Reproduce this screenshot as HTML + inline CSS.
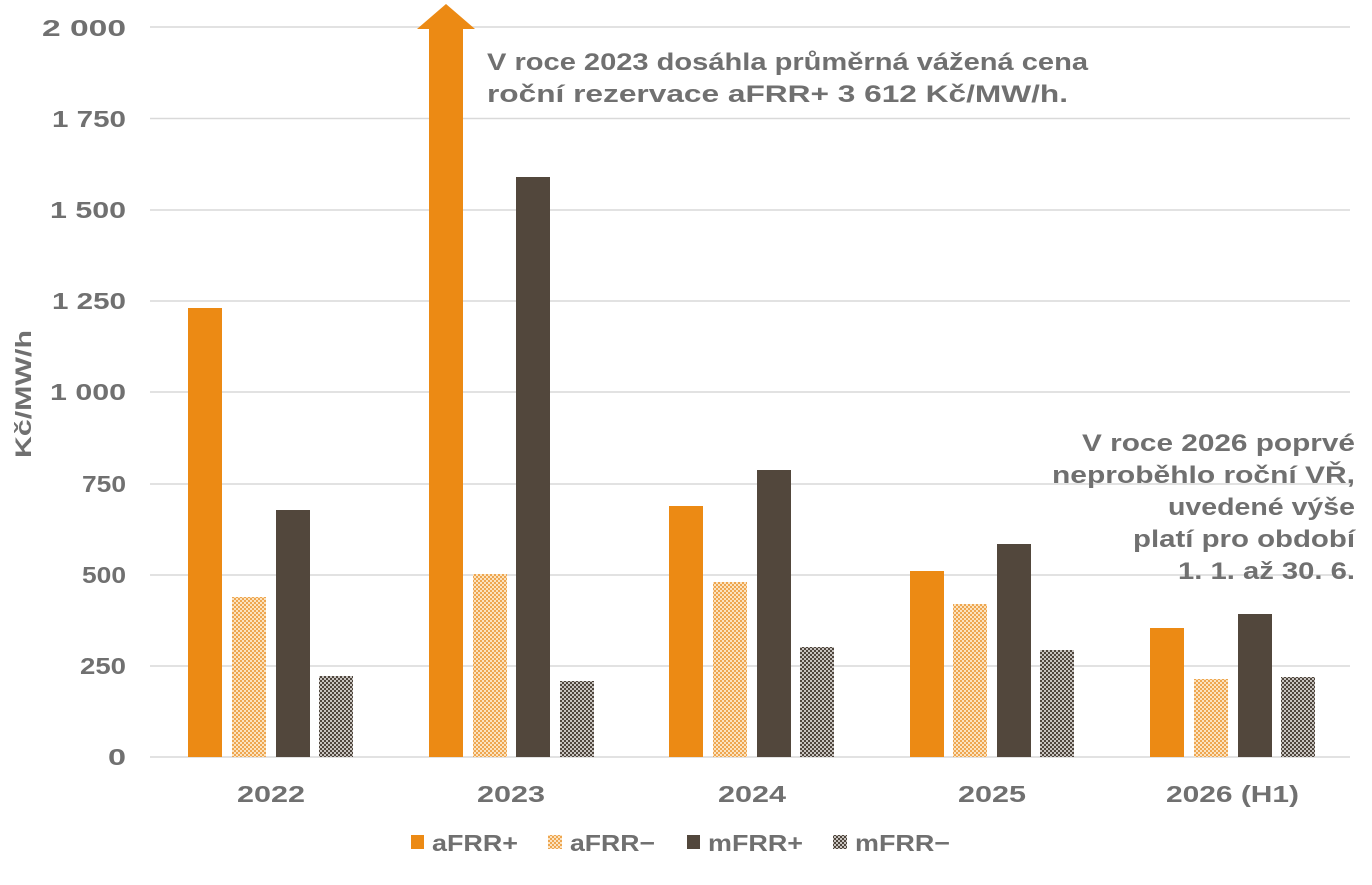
<!DOCTYPE html>
<html><head><meta charset="utf-8"><style>
html,body{margin:0;padding:0;background:#fff}
svg text{font-family:"Liberation Sans",sans-serif;font-weight:bold;fill:#707070}
</style></head><body>
<svg width="1372" height="880" viewBox="0 0 1372 880" xmlns="http://www.w3.org/2000/svg">
<defs>
<pattern id="pa" width="4" height="4" patternUnits="userSpaceOnUse"><rect width="4" height="4" fill="#fbe3c0"/><rect width="2" height="2" fill="#eea650"/><rect x="2" y="2" width="2" height="2" fill="#eea650"/></pattern>
<pattern id="pm" width="4" height="4" patternUnits="userSpaceOnUse"><rect width="4" height="4" fill="#c8c4c0"/><rect width="2" height="2" fill="#4f463d"/><rect x="2" y="2" width="2" height="2" fill="#4f463d"/></pattern>
</defs>
<g stroke="#d9d9d9" stroke-width="1.5">
<line x1="150" x2="1350" y1="27" y2="27"/><line x1="150" x2="1350" y1="118.5" y2="118.5"/>
<line x1="150" x2="1350" y1="210" y2="210"/><line x1="150" x2="1350" y1="301" y2="301"/>
<line x1="150" x2="1350" y1="392" y2="392"/><line x1="150" x2="1350" y1="484" y2="484"/>
<line x1="150" x2="1350" y1="575" y2="575"/><line x1="150" x2="1350" y1="666" y2="666"/>
<line x1="150" x2="1350" y1="757" y2="757"/>
</g>
<g font-size="23">
<text x="42" y="36" textLength="84" lengthAdjust="spacingAndGlyphs">2 000</text>
<text x="52" y="127" textLength="74" lengthAdjust="spacingAndGlyphs">1 750</text>
<text x="50" y="218" textLength="76" lengthAdjust="spacingAndGlyphs">1 500</text>
<text x="52" y="309" textLength="74" lengthAdjust="spacingAndGlyphs">1 250</text>
<text x="50" y="400" textLength="76" lengthAdjust="spacingAndGlyphs">1 000</text>
<text x="82" y="492" textLength="44" lengthAdjust="spacingAndGlyphs">750</text>
<text x="82" y="583" textLength="44" lengthAdjust="spacingAndGlyphs">500</text>
<text x="80" y="674" textLength="46" lengthAdjust="spacingAndGlyphs">250</text>
<text x="108" y="765" textLength="18" lengthAdjust="spacingAndGlyphs">0</text>
</g>
<text transform="translate(31,458) rotate(-90)" font-size="22" textLength="128" lengthAdjust="spacingAndGlyphs">Kč/MW/h</text>
<rect x="188" y="308" width="34" height="449" fill="#ec8a14"/>
<rect x="232" y="597" width="34" height="160" fill="url(#pa)"/>
<rect x="276" y="510" width="34" height="247" fill="#52473c"/>
<rect x="319" y="676" width="34" height="81" fill="url(#pm)"/>
<rect x="429" y="27" width="34" height="730" fill="#ec8a14"/>
<polygon points="417,29 446,4 475,29" fill="#ec8a14"/>
<rect x="473" y="574" width="34" height="183" fill="url(#pa)"/>
<rect x="516" y="177" width="34" height="580" fill="#52473c"/>
<rect x="560" y="681" width="34" height="76" fill="url(#pm)"/>
<rect x="669" y="506" width="34" height="251" fill="#ec8a14"/>
<rect x="713" y="582" width="34" height="175" fill="url(#pa)"/>
<rect x="757" y="470" width="34" height="287" fill="#52473c"/>
<rect x="800" y="647" width="34" height="110" fill="url(#pm)"/>
<rect x="910" y="571" width="34" height="186" fill="#ec8a14"/>
<rect x="953" y="604" width="34" height="153" fill="url(#pa)"/>
<rect x="997" y="544" width="34" height="213" fill="#52473c"/>
<rect x="1040" y="650" width="34" height="107" fill="url(#pm)"/>
<rect x="1150" y="628" width="34" height="129" fill="#ec8a14"/>
<rect x="1194" y="679" width="34" height="78" fill="url(#pa)"/>
<rect x="1238" y="614" width="34" height="143" fill="#52473c"/>
<rect x="1281" y="677" width="34" height="80" fill="url(#pm)"/>
<g font-size="23">
<text x="237" y="802" textLength="68" lengthAdjust="spacingAndGlyphs">2022</text>
<text x="477" y="802" textLength="68" lengthAdjust="spacingAndGlyphs">2023</text>
<text x="718" y="802" textLength="68" lengthAdjust="spacingAndGlyphs">2024</text>
<text x="958" y="802" textLength="68" lengthAdjust="spacingAndGlyphs">2025</text>
<text x="1166" y="802" textLength="133" lengthAdjust="spacingAndGlyphs">2026 (H1)</text>
</g>
<g font-size="24">
<text x="487" y="70" textLength="601" lengthAdjust="spacingAndGlyphs">V roce 2023 dosáhla průměrná vážená cena</text>
<text x="487" y="102" textLength="581" lengthAdjust="spacingAndGlyphs">roční rezervace aFRR+ 3 612 Kč/MW/h.</text>
</g>
<g font-size="24">
<text x="1082" y="451" textLength="273" lengthAdjust="spacingAndGlyphs">V roce 2026 poprvé</text>
<text x="1052" y="483" textLength="303" lengthAdjust="spacingAndGlyphs">neproběhlo roční VŘ,</text>
<text x="1168" y="515" textLength="187" lengthAdjust="spacingAndGlyphs">uvedené výše</text>
<text x="1133" y="547" textLength="222" lengthAdjust="spacingAndGlyphs">platí pro období</text>
<text x="1178" y="579" textLength="177" lengthAdjust="spacingAndGlyphs">1. 1. až 30. 6.</text>
</g>
<g font-size="23">
<rect x="411" y="835" width="13" height="14" fill="#ec8a14"/><text x="432" y="851" textLength="86" lengthAdjust="spacingAndGlyphs">aFRR+</text>
<rect x="548" y="835" width="14" height="14" fill="url(#pa)"/><text x="570" y="851" textLength="85" lengthAdjust="spacingAndGlyphs">aFRR−</text>
<rect x="687" y="835" width="13" height="14" fill="#52473c"/><text x="708" y="851" textLength="95" lengthAdjust="spacingAndGlyphs">mFRR+</text>
<rect x="833" y="835" width="14" height="14" fill="url(#pm)"/><text x="855" y="851" textLength="95" lengthAdjust="spacingAndGlyphs">mFRR−</text>
</g>
</svg>
</body></html>
